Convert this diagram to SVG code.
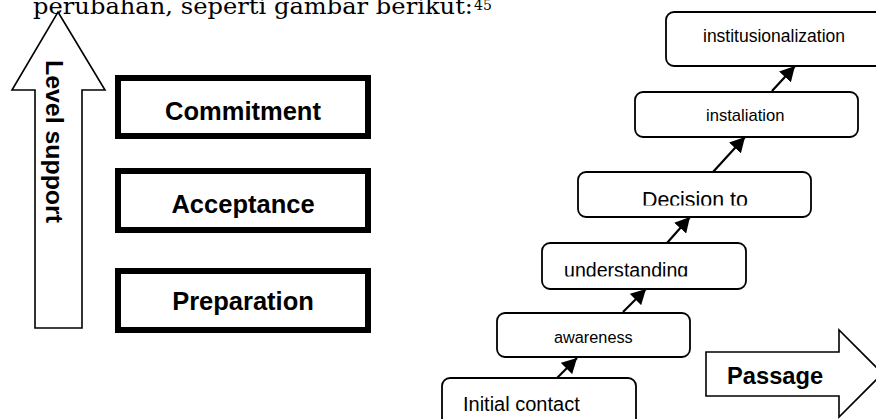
<svg xmlns="http://www.w3.org/2000/svg" width="876" height="419" viewBox="0 0 876 419">
  <style>
    .thick { fill: #fff; stroke: #000; stroke-width: 6; }
    .rbox { fill: #fff; stroke: #000; stroke-width: 1.8; }
    .big { fill: #fff; stroke: #000; stroke-width: 1.6; stroke-linejoin: miter; }
    .lbl { font-family: "Liberation Sans", Arial, sans-serif; fill: #000; }
    .bold { font-family: "Liberation Sans", Arial, sans-serif; font-weight: bold; fill: #000; }
    .conn { stroke: #000; stroke-width: 2.2; fill: none; marker-end: url(#ah); }
  </style>
  <defs>
    <marker id="ah" markerUnits="userSpaceOnUse" markerWidth="16" markerHeight="16" refX="13" refY="7" orient="auto" viewBox="0 0 14 14">
      <path d="M0,0 L13,7 L0,14 z" fill="#000"/>
    </marker>
    <clipPath id="clipDec"><rect x="578" y="172" width="233" height="33.5"/></clipPath>
    <clipPath id="clipUnd"><rect x="542" y="243" width="204" height="33.5"/></clipPath>
  </defs>
  <rect width="876" height="419" fill="#fff"/>

  <text x="33" y="14" font-family="'DejaVu Serif', 'Liberation Serif', serif" font-size="23" textLength="440" lengthAdjust="spacingAndGlyphs" fill="#000">perubahan, seperti gambar berikut:</text>
  <text x="474" y="10" font-family="'DejaVu Serif', 'Liberation Serif', serif" font-size="14" fill="#000">45</text>

  <g id="level-support">
    <polygon class="big" points="58,12 105,90 82,90 82,328 35,328 35,90 12,90"/>
    <text class="bold" font-size="24" transform="translate(46,60) rotate(90)" textLength="163" lengthAdjust="spacingAndGlyphs">Level support</text>
  </g>

  <g id="commitment">
    <rect class="thick" x="118" y="78" width="250" height="58"/>
    <text class="bold" x="243" y="120" font-size="25.5" text-anchor="middle">Commitment</text>
  </g>
  <g id="acceptance">
    <rect class="thick" x="118" y="171" width="250" height="59"/>
    <text class="bold" x="243" y="213" font-size="25.5" text-anchor="middle">Acceptance</text>
  </g>
  <g id="preparation">
    <rect class="thick" x="118" y="271" width="250" height="59"/>
    <text class="bold" x="243" y="310" font-size="25.5" text-anchor="middle">Preparation</text>
  </g>

  <g id="institusionalization">
    <rect class="rbox" x="666" y="12" width="230" height="54" rx="8"/>
    <text class="lbl" x="703" y="42" font-size="17.5">institusionalization</text>
  </g>
  <g id="instaliation">
    <rect class="rbox" x="635" y="92" width="223" height="45" rx="8"/>
    <text class="lbl" x="706" y="121" font-size="16.6">instaliation</text>
  </g>
  <g id="decision">
    <rect class="rbox" x="578" y="172" width="233" height="45" rx="8"/>
    <text class="lbl" x="642" y="207" font-size="21.4" clip-path="url(#clipDec)">Decision to</text>
  </g>
  <g id="understanding">
    <rect class="rbox" x="542" y="243" width="204" height="46" rx="8"/>
    <text class="lbl" x="564" y="277" font-size="19.6" clip-path="url(#clipUnd)">understanding</text>
  </g>
  <g id="awareness">
    <rect class="rbox" x="497" y="313" width="193" height="44" rx="8"/>
    <text class="lbl" x="554" y="343" font-size="16.3">awareness</text>
  </g>
  <g id="initial-contact">
    <rect class="rbox" x="442" y="378" width="194" height="60" rx="8"/>
    <text class="lbl" x="463" y="411" font-size="20">Initial contact</text>
  </g>

  <g id="passage">
    <polygon class="big" points="706,352 839,352 839,330 882.5,373.5 839,417 839,396 706,396"/>
    <text class="bold" x="727" y="384" font-size="23.7">Passage</text>
  </g>

  <g id="connectors">
    <line class="conn" x1="557" y1="378" x2="577" y2="358"/>
    <line class="conn" x1="623" y1="312" x2="646" y2="289"/>
    <line class="conn" x1="667" y1="243" x2="690" y2="217"/>
    <line class="conn" x1="713" y1="172" x2="745" y2="137"/>
    <line class="conn" x1="772" y1="91" x2="795" y2="66"/>
  </g>
</svg>
